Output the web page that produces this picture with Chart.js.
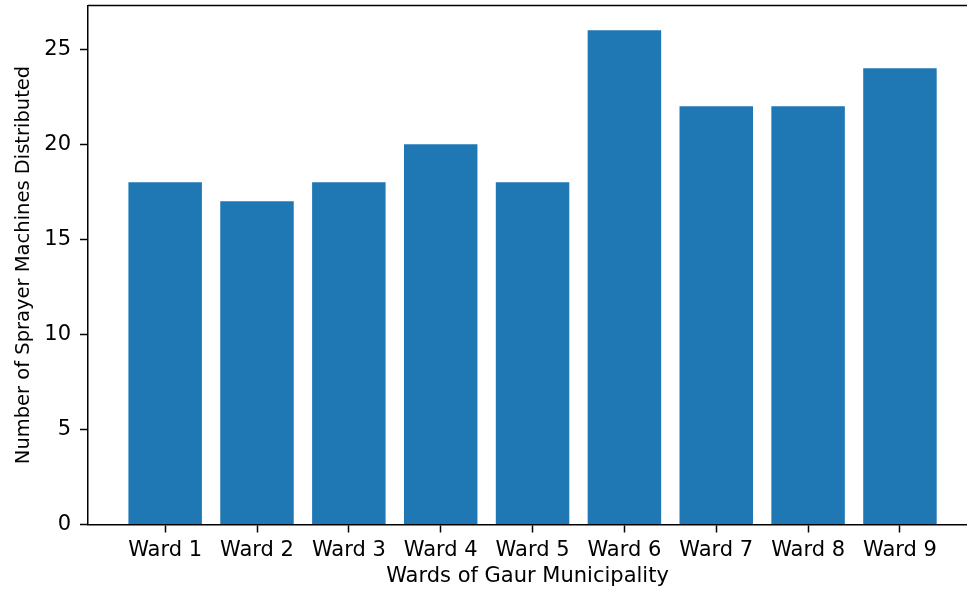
<!DOCTYPE html>
<html>
<head>
<meta charset="utf-8">
<script src="https://cdn.jsdelivr.net/npm/chart.js@4"></script>
<style>
  body { margin: 0; background: #fff; }
  #wrap { width: 967px; height: 590px; position: relative; }
</style>
</head>
<body>
<div id="wrap"><canvas id="sprayer_chart"></canvas></div>
<script>
var wards = ["Ward 1", "Ward 2", "Ward 3", "Ward 4", "Ward 5", "Ward 6", "Ward 7", "Ward 8", "Ward 9"];
var machines = [18, 17, 18, 20, 18, 26, 22, 22, 24];
var yTicks = [0, 5, 10, 15, 20, 25];

var fontFamily = "'DejaVu Sans', sans-serif";

// matplotlib draws a top spine too
var topSpine = {
  id: 'topSpine',
  afterDraw: function(chart) {
    var a = chart.chartArea, ctx = chart.ctx;
    ctx.save();
    ctx.strokeStyle = '#000';
    ctx.lineWidth = 1.5;
    ctx.beginPath();
    ctx.moveTo(a.left, a.top);
    ctx.lineTo(a.right, a.top);
    ctx.stroke();
    ctx.restore();
  }
};

document.addEventListener("DOMContentLoaded", function(event){
  new Chart(document.getElementById('sprayer_chart'), {
    type: 'bar',
    data: {
      datasets: [{
        label: 'machines',
        data: wards.map(function(w, i) { return { x: i, y: machines[i] }; }),
        backgroundColor: '#1f77b4',
        borderWidth: 0,
        categoryPercentage: 1,
        barPercentage: 0.8
      }]
    },
    plugins: [topSpine],
    options: {
      responsive: true,
      maintainAspectRatio: false,
      animation: false,
      layout: { padding: { top: 5.5, right: 0, left: 0, bottom: 0 } },
      plugins: { legend: { display: false }, tooltip: { enabled: false } },
      scales: {
        x: {
          type: 'linear',
          min: -0.84,
          max: 8.73,
          offset: false,
          afterFit: function(axis) {
            axis.height = 65.5;
            axis.paddingLeft = 0;
            axis.paddingRight = 0;
          },
          afterBuildTicks: function(axis) {
            axis.ticks = wards.map(function(w, i) { return { value: i }; });
          },
          ticks: {
            color: '#000',
            padding: 5,
            maxRotation: 0,
            autoSkip: false,
            font: { family: fontFamily, size: 21 },
            callback: function(v) { return wards[v]; }
          },
          grid: { display: true, offset: false, drawOnChartArea: false, tickLength: 8, tickColor: '#000', tickWidth: 1.5 },
          border: { display: true, color: '#000', width: 1.5 },
          title: {
            display: true,
            text: 'Wards of Gaur Municipality',
            color: '#000',
            font: { family: fontFamily, size: 21 },
            padding: { top: 0, bottom: 1 }
          }
        },
        y: {
          min: 0,
          max: 27.3,
          afterFit: function(axis) {
            axis.width = 88;
            axis.paddingTop = 0;
            axis.paddingBottom = 0;
          },
          afterBuildTicks: function(axis) {
            axis.ticks = yTicks.map(function(v) { return { value: v }; });
          },
          ticks: {
            color: '#000',
            padding: 9,
            font: { family: fontFamily, size: 21 }
          },
          grid: { display: true, drawOnChartArea: false, tickLength: 8, tickColor: '#000', tickWidth: 1.5 },
          border: { display: true, color: '#000', width: 1.5 },
          title: {
            display: true,
            text: 'Number of Sprayer Machines Distributed',
            color: '#000',
            font: { family: fontFamily, size: 19.5 },
            padding: { top: 12, bottom: 0 }
          }
        }
      }
    }
  });
});
</script>
</body>
</html>
